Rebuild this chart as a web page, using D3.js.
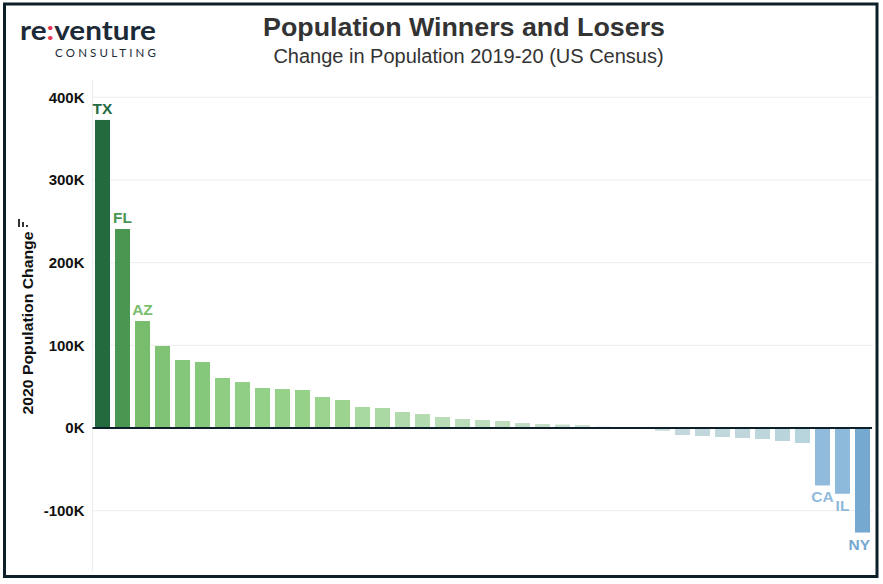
<!DOCTYPE html>
<html>
<head>
<meta charset="utf-8">
<script src="https://cdn.jsdelivr.net/npm/d3@7.9.0/dist/d3.min.js"></script>
<style>
  body { margin: 0; background: #fff; }
  svg { display: block; font-family: "Liberation Sans", Arial, sans-serif; }
</style>
</head>
<body>
<div id="chart"></div>
<script>
// Population change 2019-20, one entry per bar (sorted, left to right)
const states = ['TX', 'FL', 'AZ', 'NC', 'GA', 'WA', 'SC', 'TN', 'UT', 'CO',
  'ID', 'NV', 'OR', 'VA', 'OK', 'MT', 'MO', 'IN', 'AL', 'DE',
  'MN', 'AR', 'NH', 'KY', 'NE', 'SD', 'ME', 'ND', 'WY', 'NM',
  'OH', 'LA', 'MS', 'WV', 'MI', 'HI', 'CA', 'IL', 'NY'];
const changes = [372600, 240700, 129400, 99200, 82300, 79800, 60500, 55600, 48400, 47200,
  46000, 37500, 33900, 25400, 24200, 19400, 16900, 13300, 10900, 9700,
  8500, 6000, 4800, 4200, 3600, 1800, 1200, -600, -3300, -8500,
  -9700, -10900, -12100, -13300, -15700, -18100, -69500, -79500, -126400];
const labeledStates = ['TX', 'FL', 'AZ', 'CA', 'IL', 'NY'];
const yTicks = [-100000, 0, 100000, 200000, 300000, 400000];

// diverging colour ramp (value -> colour)
const colorDomain = [-126000, -80000, -69000, -18000, -3000, 0, 5000, 10000, 17000, 25000,
  34000, 47000, 60000, 82000, 100000, 129000, 241000, 373000];
const colorRange = ['#76a9cf', '#8db9db', '#90bbdc', '#b7d3dc', '#c9dbdc', '#e8efed', '#c2dcc6', '#bcdcbb', '#b3dbb0', '#a9d9a1',
  '#9cd48f', '#95d189', '#8fcd83', '#85c77a', '#80c374', '#78bd6c', '#4a9752', '#236a3e'];

const width = 883;
const height = 584;
const plot = { left: 92.5, right: 873, top: 80, bottom: 571 };

const data = states.map((s, i) => ({ state: s, value: changes[i] }));

const svg = d3.select('#chart')
  .append('svg')
  .attr('width', width)
  .attr('height', height);

svg.append('rect')
  .attr('x', 4.5).attr('y', 4)
  .attr('width', 872.5).attr('height', 572.5)
  .attr('fill', '#fff')
  .attr('stroke', '#0d1f28')
  .attr('stroke-width', 3);

// logo
const logo = svg.append('g');
const word = logo.append('text')
  .attr('x', 20).attr('y', 39.5)
  .attr('font-family', 'Lato, "Open Sans", sans-serif')
  .attr('font-size', 26)
  .attr('font-weight', 700)
  .attr('fill', '#1c2a37')
  .attr('textLength', 136)
  .attr('lengthAdjust', 'spacingAndGlyphs');
word.append('tspan').text('re');
word.append('tspan').attr('fill', '#e8344e').text(':');
word.append('tspan').text('venture');
logo.append('text')
  .attr('x', 55).attr('y', 56.5)
  .attr('font-family', 'Lato, "Open Sans", sans-serif')
  .attr('font-size', 11.5)
  .attr('fill', '#1c2a37')
  .attr('textLength', 101)
  .attr('lengthAdjust', 'spacing')
  .text('CONSULTING');

// titles
svg.append('text')
  .attr('x', 464).attr('y', 36)
  .attr('text-anchor', 'middle')
  .attr('font-size', 26)
  .attr('font-weight', 700)
  .attr('fill', '#333')
  .attr('textLength', 402)
  .attr('lengthAdjust', 'spacingAndGlyphs')
  .text('Population Winners and Losers');
svg.append('text')
  .attr('x', 468.5).attr('y', 63)
  .attr('text-anchor', 'middle')
  .attr('font-size', 20)
  .attr('fill', '#333')
  .text('Change in Population 2019-20 (US Census)');

const x = d3.scaleBand()
  .domain(states)
  .range([plot.left, plot.right - 0.5])
  .paddingInner(0.25)
  .paddingOuter(0.125);

const y = d3.scaleLinear()
  .domain([-100000, 400000])
  .range([510.7, 97.3]);

const color = d3.scaleLinear().domain(colorDomain).range(colorRange);

// gridlines
svg.append('g')
  .selectAll('line')
  .data(yTicks)
  .join('line')
  .attr('x1', plot.left).attr('x2', plot.right)
  .attr('y1', d => y(d)).attr('y2', d => y(d))
  .attr('stroke', '#ececec')
  .attr('stroke-width', 1);

svg.append('line')
  .attr('x1', plot.left).attr('x2', plot.left)
  .attr('y1', plot.top).attr('y2', plot.bottom)
  .attr('stroke', '#ececec');

// y axis
const yAxis = svg.append('g')
  .attr('transform', `translate(${plot.left - 8}, 0)`)
  .call(d3.axisLeft(y).tickValues(yTicks).tickSize(0).tickPadding(0)
    .tickFormat(d => (d / 1000) + 'K'));
yAxis.select('.domain').remove();
yAxis.selectAll('text')
  .attr('font-family', '"Liberation Sans", Arial, sans-serif')
  .attr('font-size', 15)
  .attr('font-weight', 700)
  .attr('fill', '#111');

svg.append('text')
  .attr('transform', 'translate(33, 323) rotate(-90)')
  .attr('text-anchor', 'middle')
  .attr('font-size', 15.5)
  .attr('font-weight', 700)
  .attr('fill', '#111')
  .attr('textLength', 183)
  .attr('lengthAdjust', 'spacingAndGlyphs')
  .text('2020 Population Change');

// small sort icon next to the axis title
svg.append('g')
  .selectAll('rect')
  .data([[18, 219, 8], [22, 222, 5], [26, 225, 2]])
  .join('rect')
  .attr('x', d => d[0]).attr('y', d => d[1])
  .attr('width', 2).attr('height', d => d[2])
  .attr('fill', '#333');

// bars
svg.append('g')
  .selectAll('rect')
  .data(data)
  .join('rect')
  .attr('x', d => x(d.state))
  .attr('width', x.bandwidth())
  .attr('y', d => Math.min(y(d.value), y(0)))
  .attr('height', d => Math.abs(y(d.value) - y(0)))
  .attr('fill', d => color(d.value));

// zero line
svg.append('line')
  .attr('x1', plot.left).attr('x2', plot.right - 1)
  .attr('y1', y(0)).attr('y2', y(0))
  .attr('stroke', '#0d1f28')
  .attr('stroke-width', 2);

// labels
const labels = svg.append('g')
  .selectAll('text')
  .data(data.filter(d => labeledStates.includes(d.state)))
  .join('text')
  .attr('x', d => x(d.state) + x.bandwidth() / 2)
  .attr('y', d => d.value >= 0 ? y(d.value) - 6 : y(d.value) + 17)
  .attr('text-anchor', 'middle')
  .attr('font-size', 15.5)
  .attr('font-weight', 700)
  .attr('fill', d => color(d.value))
  .text(d => d.state);

labels.each(function (d) {
  const w = this.getComputedTextLength();
  const cx = x(d.state) + x.bandwidth() / 2;
  if (cx + w / 2 > plot.right - 2) {
    d3.select(this)
      .attr('text-anchor', 'end')
      .attr('x', x(d.state) + x.bandwidth());
  }
});
</script>
</body>
</html>
